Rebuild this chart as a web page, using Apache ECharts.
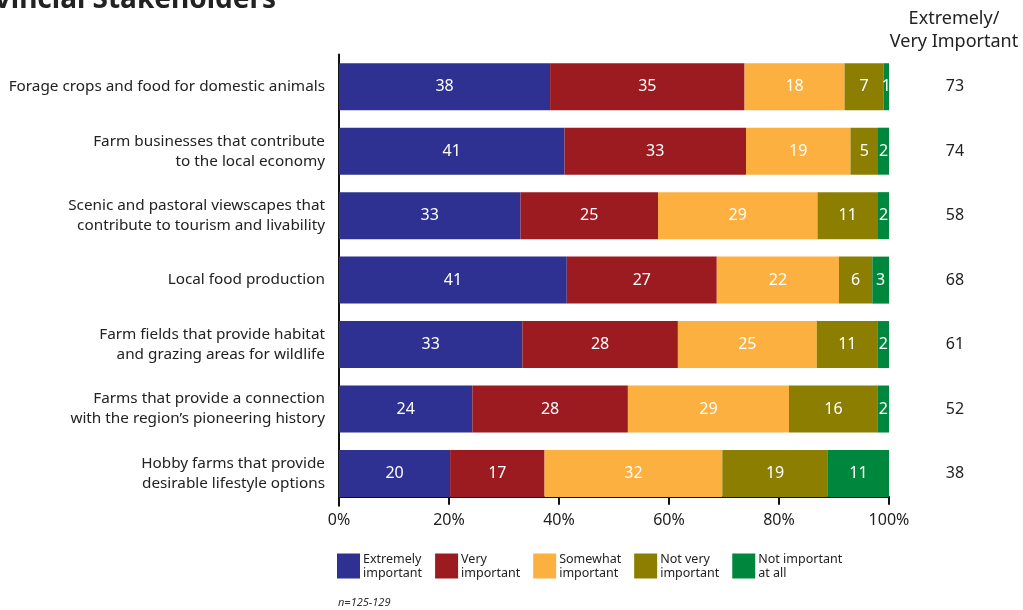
<!DOCTYPE html>
<html>
<head>
<meta charset="utf-8">
<script src="https://cdn.jsdelivr.net/npm/echarts@6/dist/echarts.min.js"></script>
<style>
html,body{margin:0;padding:0;background:#fff;}
#chart{width:1023px;height:610px;}
</style>
</head>
<body>
<div id="chart"></div>
<script>
var categories = [
  "Forage crops and food for domestic animals",
  "Farm businesses that contribute\nto the local economy",
  "Scenic and pastoral viewscapes that\ncontribute to tourism and livability",
  "Local food production",
  "Farm fields that provide habitat\nand grazing areas for wildlife",
  "Farms that provide a connection\nwith the region\u2019s pioneering history",
  "Hobby farms that provide\ndesirable lifestyle options"
];
var seriesNames = ["Extremely\nimportant", "Very\nimportant", "Somewhat\nimportant", "Not very\nimportant", "Not important\nat all"];
var extremely = [38, 41, 33, 41, 33, 24, 20];
var very      = [35, 33, 25, 27, 28, 28, 17];
var somewhat  = [18, 19, 29, 22, 25, 29, 32];
var notVery   = [7, 5, 11, 6, 11, 16, 19];
var notAtAll  = [1, 2, 2, 3, 2, 2, 11];
var totals    = [73, 74, 58, 68, 61, 52, 38];
var xTicks = [0, 20, 40, 60, 80, 100];
var colors = ["#2E3192", "#9B1B20", "#FBB040", "#8C7E00", "#00873E"];

var raw = [extremely, very, somewhat, notVery, notAtAll];
var rowSums = categories.map(function(_, i){ return raw.reduce(function(s, a){ return s + a[i]; }, 0); });
var FONT = "'Noto Sans', sans-serif";

var series = raw.map(function(arr, k){
  return {
    name: seriesNames[k],
    type: 'bar',
    stack: 'all',
    barWidth: 47,
    itemStyle: {color: colors[k]},
    label: {
      show: true, position: 'inside', color: '#fff', fontSize: 16, fontFamily: FONT,
      padding: [3, 0, 0, 0],
      formatter: function(p){ return arr[p.dataIndex]; }
    },
    emphasis: {disabled: true},
    data: arr.map(function(v, i){ return v / rowSums[i] * 100; })
  };
});

var chart = echarts.init(document.getElementById('chart'), null, {renderer: 'canvas'});
chart.setOption({
  animation: false,
  color: colors,
  textStyle: {fontFamily: FONT},
  grid: {left: 339, right: 134, top: 54.5, bottom: 104.3, containLabel: false},
  legend: {
    left: 337, top: 552, padding: 0,
    itemWidth: 23, itemHeight: 25, itemGap: 13,
    icon: 'rect',
    textStyle: {fontSize: 12.5, color: '#222', fontFamily: FONT, lineHeight: 14, padding: [0,0,0,-2]},
    data: seriesNames
  },
  xAxis: {
    type: 'value', min: 0, max: 100, interval: 20,
    offset: -9,
    axisLine: {show: true, lineStyle: {color: '#111', width: 2}},
    axisTick: {show: true, length: 8, lineStyle: {color: '#111', width: 2}},
    splitLine: {show: false},
    axisLabel: {fontSize: 16, color: '#222', margin: 16, fontFamily: FONT,
      formatter: function(v){ return xTicks.indexOf(v) >= 0 ? v + '%' : ''; }}
  },
  yAxis: [{
    type: 'category', inverse: true, data: categories,
    axisLine: {show: true, lineStyle: {color: '#111', width: 2}},
    axisTick: {show: false},
    axisLabel: {fontSize: 15.3, color: '#222', margin: 14, lineHeight: 20, align: 'right', fontFamily: FONT,
      padding: [4, 0, 0, 0]}
  }, {
    type: 'category', inverse: true, position: 'right', data: totals,
    axisLine: {show: false}, axisTick: {show: false},
    axisLabel: {fontSize: 16, color: '#222', margin: 66, align: 'center', fontFamily: FONT, padding: [4, 0, 0, 0]}
  }],
  series: series,
  graphic: [
    {type: 'text', x: 276, y: -14, style: {text: 'Provincial Stakeholders', font: "bold 28px 'Noto Sans', sans-serif", fill: '#222', align: 'right'}},
    {type: 'text', x: 954, y: 7, style: {text: 'Extremely/\nVery Important', font: "18px 'Noto Sans', sans-serif", fill: '#222', align: 'center', lineHeight: 23}},
    {type: 'text', left: 338, top: 597, style: {text: 'n=125-129', font: "italic 11px 'Noto Sans', sans-serif", fill: '#333'}}
  ]
});
</script>
</body>
</html>
